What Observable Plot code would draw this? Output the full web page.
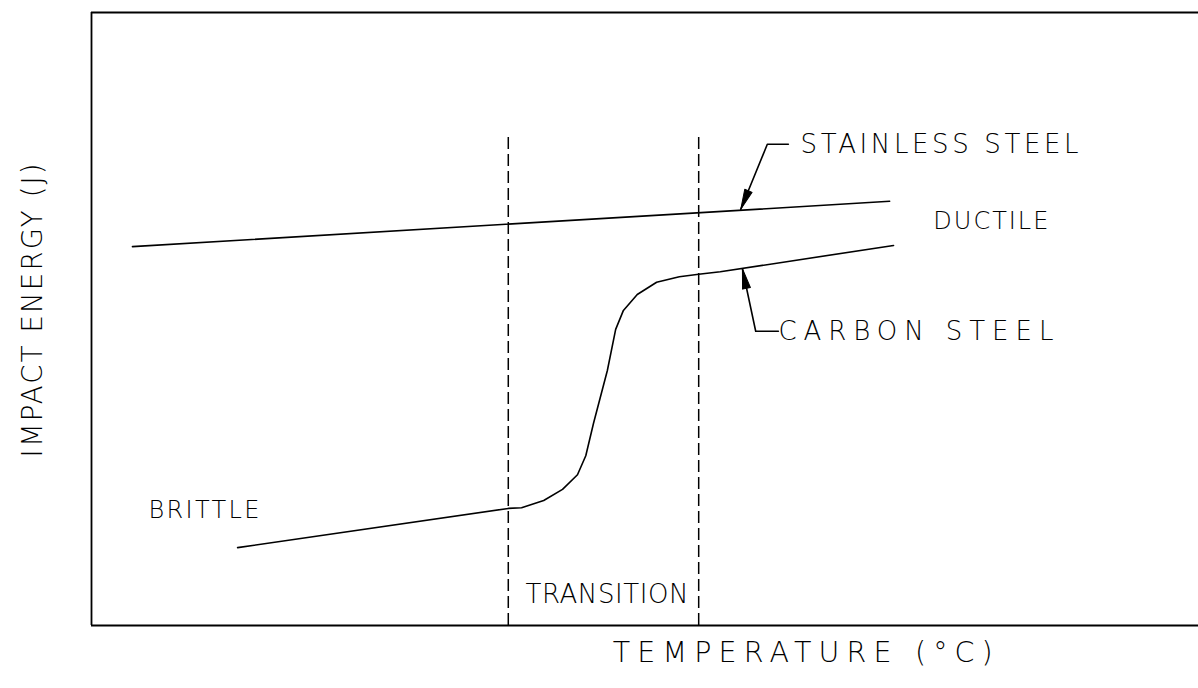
<!DOCTYPE html>
<html>
<head>
<meta charset="utf-8">
<script src="https://cdn.jsdelivr.net/npm/d3@7"></script>
<script src="https://cdn.jsdelivr.net/npm/@observablehq/plot@0.6"></script>
<style>
  html, body { margin: 0; padding: 0; background: #fff; }
  svg { display: block; }
</style>
</head>
<body>
<div id="chart"></div>
<script>
// ---- Data (temperature in arbitrary °C units, impact energy in arbitrary J units) ----
const carbonT = [-73.6, -24.7, -22.3, -18.3, -14.9, -12.2, -10.7, -9.3, -6.8, -5.3, -3.9, -1.4, 2.1, 6.2, 9.7, 13.6, 44.9];
const carbonE = [12.7, 19.1, 19.2, 20.4, 22.2, 24.6, 27.7, 33.0, 41.6, 48.3, 51.4, 54.0, 56.0, 56.9, 57.3, 57.7, 62.0];
const stainlessT = [-92.6, 44.2];
const stainlessE = [61.8, 69.2];
const transitionBounds = [-24.7, 9.7];
const transitionTop = 80.3;

const labelText = ["STAINLESS STEEL", "DUCTILE", "CARBON STEEL", "BRITTLE", "TRANSITION"];
const labelT = [28.1, 52.1, 24.1, -89.7, -21.6];
const labelE = [78.5, 65.9, 48.0, 18.8, 5.0];

const stainlessLeaderT = [25.9, 22.1, 17.3];
const stainlessLeaderE = [78.5, 78.5, 67.9];
const carbonLeaderT = [24.1, 20.0, 17.6];
const carbonLeaderE = [48.0, 48.0, 58.2];

const xTitle = "TEMPERATURE (°C)";
const yTitle = "IMPACT ENERGY (J)";

// ---- Build tables ----
const carbon = carbonT.map((t, i) => ({t, e: carbonE[i]}));
const stainless = stainlessT.map((t, i) => ({t, e: stainlessE[i]}));
const labels = labelText.map((s, i) => ({s, t: labelT[i], e: labelE[i]}));
const sLeader = stainlessLeaderT.map((t, i) => ({t, e: stainlessLeaderE[i]}));
const cLeader = carbonLeaderT.map((t, i) => ({t, e: carbonLeaderE[i]}));
const heads = [
  {t: stainlessLeaderT[2], e: stainlessLeaderE[2], r: -157.4},
  {t: carbonLeaderT[2], e: carbonLeaderE[2], r: -11.7}
];

// ---- Styles ----
const FONT = "'DejaVu Sans', Roboto, sans-serif";
const labelSize = {"STAINLESS STEEL": 26, "DUCTILE": 24, "CARBON STEEL": 26, "BRITTLE": 24, "TRANSITION": 26};
const textWidths = {
  "STAINLESS STEEL": 278, "DUCTILE": 115, "CARBON STEEL": 275, "BRITTLE": 111,
  "TRANSITION": 163, "TEMPERATURE (°C)": 380, "IMPACT ENERGY (J)": 294
};
const headShape = {
  draw(context, l) {
    const w = 4;
    context.moveTo(-w, 0);
    context.lineTo(0, -l);
    context.lineTo(w, 0);
    context.closePath();
  }
};

const plot = Plot.plot({
  width: 1198,
  height: 688,
  marginLeft: 91,
  marginTop: 12,
  marginBottom: 63,
  marginRight: 0,
  style: {background: "#fff", fontFamily: FONT},
  x: {domain: [-100, 100], axis: null},
  y: {domain: [0, 100], axis: null},
  marks: [
    Plot.ruleY([0, 100], {stroke: "#000", strokeWidth: 1.8}),
    Plot.ruleX([-100], {stroke: "#000", strokeWidth: 1.8}),
    Plot.ruleX(transitionBounds, {y1: 0, y2: transitionTop, stroke: "#000", strokeWidth: 1.5, strokeDasharray: "12,5"}),
    Plot.line(stainless, {x: "t", y: "e", stroke: "#000", strokeWidth: 1.6}),
    Plot.line(carbon, {x: "t", y: "e", stroke: "#000", strokeWidth: 1.6}),
    Plot.line(sLeader, {x: "t", y: "e", stroke: "#000", strokeWidth: 1.6}),
    Plot.line(cLeader, {x: "t", y: "e", stroke: "#000", strokeWidth: 1.6}),
    Plot.vector(heads, {x: "t", y: "e", rotate: "r", length: 20, anchor: "end", shape: headShape, fill: "#000", stroke: "#000", strokeWidth: 1}),
    Plot.text(labels, {x: "t", y: "e", text: "s", textAnchor: "start", lineAnchor: "middle", fill: "#000", fontWeight: 200,
      fontSize: d => labelSize[d.s]}),
    Plot.text([xTitle], {x: 28.5, frameAnchor: "bottom", dy: 27, textAnchor: "middle", lineAnchor: "middle", fill: "#000", fontSize: 28.5, fontWeight: 200}),
    Plot.text([yTitle], {y: 51.4, frameAnchor: "left", dx: -58, rotate: -90, textAnchor: "middle", lineAnchor: "middle", fill: "#000", fontSize: 27.5, fontWeight: 200})
  ]
});

document.getElementById("chart").appendChild(plot);

// stretch text spacing to match the drawing's letter widths
plot.querySelectorAll("text").forEach(el => {
  const w = textWidths[el.textContent];
  if (w) {
    el.setAttribute("textLength", w);
    el.setAttribute("lengthAdjust", "spacing");
  }
});
</script>
</body>
</html>
